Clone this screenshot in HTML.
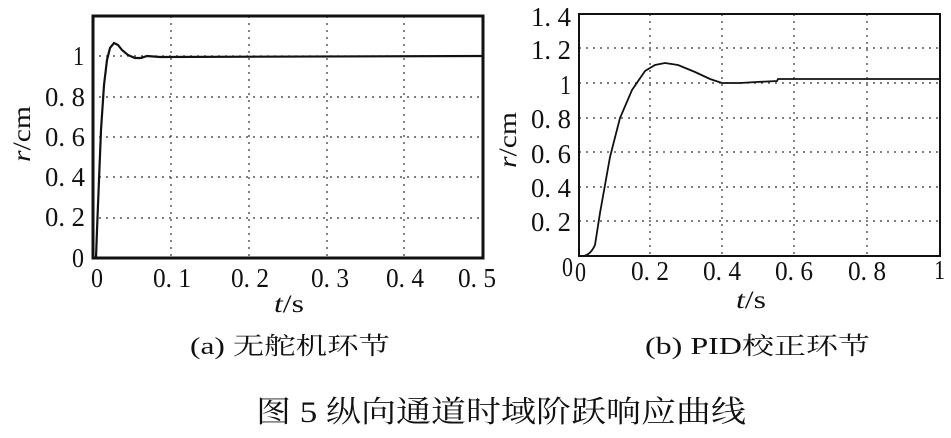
<!DOCTYPE html>
<html><head><meta charset="utf-8"><style>
html,body{margin:0;padding:0;background:#fff;}
svg{display:block;}
text{font-family:"Liberation Serif","Noto Serif CJK SC",serif;fill:#111;}
.c{font-family:"Liberation Serif","Noto Serif CJK SC",serif;}
</style></head><body>
<svg width="951" height="438" viewBox="0 0 951 438" xmlns="http://www.w3.org/2000/svg">
<!-- Left plot -->
<g stroke="#333" stroke-width="1.2" stroke-dasharray="2,5" fill="none">
<line x1="171" y1="16" x2="171" y2="258"/><line x1="249" y1="16" x2="249" y2="258"/>
<line x1="327" y1="16" x2="327" y2="258"/><line x1="404" y1="16" x2="404" y2="258"/>
<line x1="92" y1="56" x2="483" y2="56"/><line x1="92" y1="97" x2="483" y2="97"/>
<line x1="92" y1="137" x2="483" y2="137"/><line x1="92" y1="177" x2="483" y2="177"/>
<line x1="92" y1="218" x2="483" y2="218"/>
</g>
<rect x="93" y="16" width="390" height="242" fill="none" stroke="#111" stroke-width="3"/>
<path d="M96,258 L97,230 L99,180 L101,130 L104,85 L107,60 L110,48 L114,43 L118,45 L122,50 L128,55 L135,58 L141,58 L147,56 L160,57 L483,56" fill="none" stroke="#111" stroke-width="2.2"/>
<g font-size="27">
<text x="72" y="267" textLength="12" lengthAdjust="spacingAndGlyphs">0</text>
<text x="45" y="226" textLength="40" lengthAdjust="spacingAndGlyphs">0. 2</text>
<text x="45" y="186" textLength="40" lengthAdjust="spacingAndGlyphs">0. 4</text>
<text x="45" y="146" textLength="40" lengthAdjust="spacingAndGlyphs">0. 6</text>
<text x="45" y="106" textLength="40" lengthAdjust="spacingAndGlyphs">0. 8</text>
<text x="73" y="65" textLength="11" lengthAdjust="spacingAndGlyphs">1</text>
</g>
<g font-size="27">
<text x="91" y="287" textLength="12" lengthAdjust="spacingAndGlyphs">0</text>
<text x="153" y="287" textLength="38" lengthAdjust="spacingAndGlyphs">0. 1</text>
<text x="231" y="287" textLength="38" lengthAdjust="spacingAndGlyphs">0. 2</text>
<text x="311" y="287" textLength="38" lengthAdjust="spacingAndGlyphs">0. 3</text>
<text x="386" y="287" textLength="38" lengthAdjust="spacingAndGlyphs">0. 4</text>
<text x="458" y="287" textLength="38" lengthAdjust="spacingAndGlyphs">0. 5</text>
</g>
<text x="0" y="0" font-size="25" transform="translate(30,162) rotate(-90)" textLength="56" lengthAdjust="spacingAndGlyphs"><tspan font-style="italic">r</tspan>/cm</text>
<text x="274" y="312" font-size="25" textLength="30" lengthAdjust="spacingAndGlyphs"><tspan font-style="italic">t</tspan>/s</text>
<!-- Right plot -->
<g stroke="#333" stroke-width="1.2" stroke-dasharray="2,5" fill="none">
<line x1="650" y1="14" x2="650" y2="256"/><line x1="722" y1="14" x2="722" y2="256"/>
<line x1="794" y1="14" x2="794" y2="256"/><line x1="867" y1="14" x2="867" y2="256"/>
<line x1="579" y1="48" x2="940" y2="48"/><line x1="579" y1="83" x2="940" y2="83"/>
<line x1="579" y1="118" x2="940" y2="118"/><line x1="579" y1="152" x2="940" y2="152"/>
<line x1="579" y1="187" x2="940" y2="187"/><line x1="579" y1="221" x2="940" y2="221"/>
</g>
<rect x="579" y="14" width="361" height="242" fill="none" stroke="#111" stroke-width="2"/>
<path d="M582,256 Q590,256 595,245 L600,213 L605,185 L610,157 L620,118 L632,90 L645,71 L655,65 L665,63 L678,65 L695,72 L710,79 L722,83 L740,83 L757,82 L777,81 L778,79 L940,79" fill="none" stroke="#111" stroke-width="1.8"/>
<g font-size="27">
<text x="562" y="276" textLength="11" lengthAdjust="spacingAndGlyphs">0</text>
<text x="531" y="231" textLength="40" lengthAdjust="spacingAndGlyphs">0. 2</text>
<text x="531" y="197" textLength="40" lengthAdjust="spacingAndGlyphs">0. 4</text>
<text x="531" y="163" textLength="40" lengthAdjust="spacingAndGlyphs">0. 6</text>
<text x="531" y="128" textLength="40" lengthAdjust="spacingAndGlyphs">0. 8</text>
<text x="560" y="94" textLength="11" lengthAdjust="spacingAndGlyphs">1</text>
<text x="531" y="59" textLength="40" lengthAdjust="spacingAndGlyphs">1. 2</text>
<text x="531" y="26" textLength="40" lengthAdjust="spacingAndGlyphs">1. 4</text>
</g>
<g font-size="27">
<text x="575" y="281" textLength="11" lengthAdjust="spacingAndGlyphs">0</text>
<text x="631" y="280" textLength="38" lengthAdjust="spacingAndGlyphs">0. 2</text>
<text x="703" y="280" textLength="38" lengthAdjust="spacingAndGlyphs">0. 4</text>
<text x="775" y="280" textLength="38" lengthAdjust="spacingAndGlyphs">0. 6</text>
<text x="848" y="280" textLength="38" lengthAdjust="spacingAndGlyphs">0. 8</text>
<text x="934" y="279" textLength="11" lengthAdjust="spacingAndGlyphs">1</text>
</g>
<text x="0" y="0" font-size="25" transform="translate(516,168) rotate(-90)" textLength="56" lengthAdjust="spacingAndGlyphs"><tspan font-style="italic">r</tspan>/cm</text>
<text x="736" y="308" font-size="25" textLength="30" lengthAdjust="spacingAndGlyphs"><tspan font-style="italic">t</tspan>/s</text>
<!-- captions -->
<text x="190" y="354" font-size="24" textLength="200" lengthAdjust="spacingAndGlyphs">(a) 无舵机环节</text>
<text x="645" y="354" font-size="24" textLength="225" lengthAdjust="spacingAndGlyphs">(b) PID校正环节</text>
<text x="256" y="422" font-size="30" textLength="490" lengthAdjust="spacingAndGlyphs">图 5  纵向通道时域阶跃响应曲线</text>
</svg>
</body></html>
